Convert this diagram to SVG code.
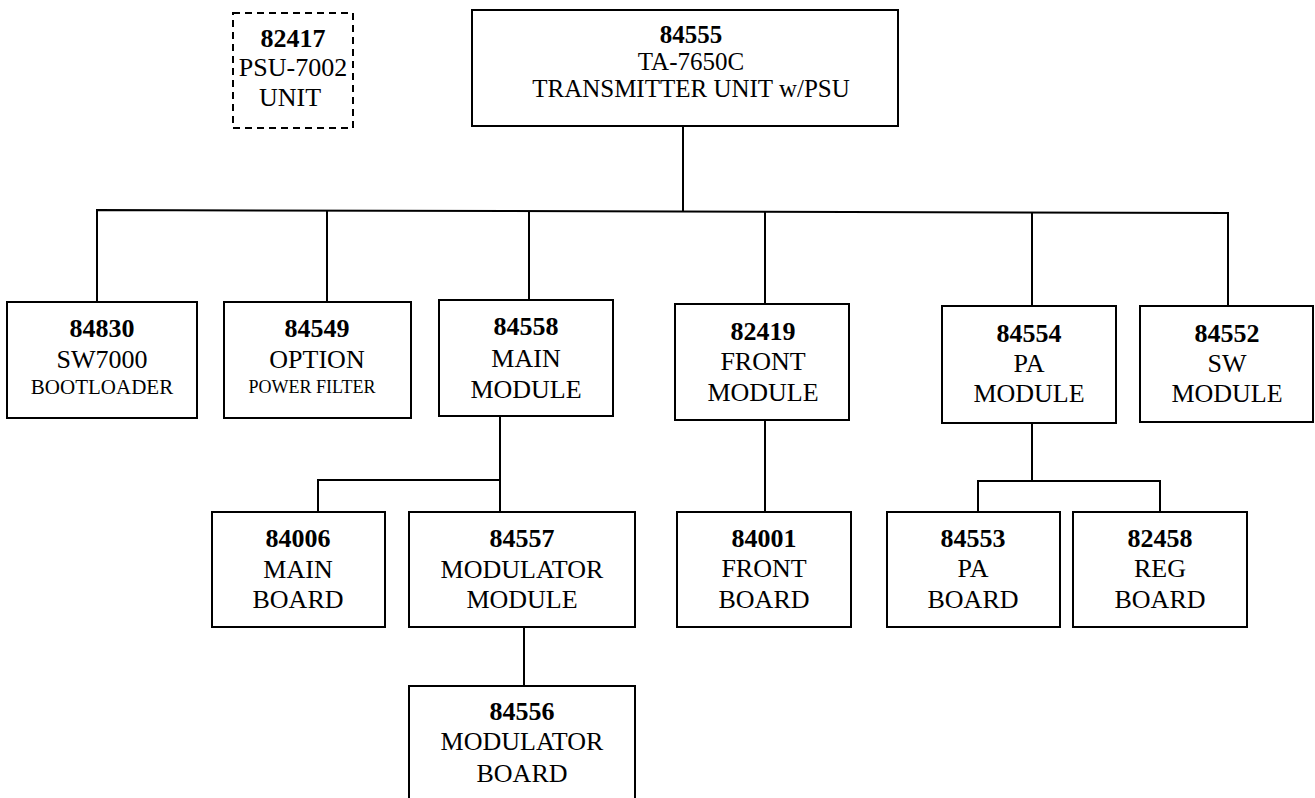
<svg xmlns="http://www.w3.org/2000/svg" width="1315" height="798" viewBox="0 0 1315 798">
<style>
rect.box{fill:#fff;stroke:#000;stroke-width:2}
rect.dash{fill:#fff;stroke:#000;stroke-width:2;stroke-dasharray:7 5}
.c{fill:none;stroke:#000;stroke-width:2}
text{font-family:"Liberation Serif","Times New Roman",serif;font-size:26px;fill:#000;text-anchor:middle}
.b{font-weight:bold}
.t{font-size:25px}
.s{font-size:21px}
.xs{font-size:18px}
</style>
<rect width="1315" height="798" fill="#fff"/>
<g id="connectors">
<path class="c" d="M97,302 V210 L1228,213 V306"/>
<path class="c" d="M683,126 V212"/>
<path class="c" d="M327,211 V302"/>
<path class="c" d="M529,212 V300"/>
<path class="c" d="M765,212 V304"/>
<path class="c" d="M1032,213 V306"/>
<path class="c" d="M500,416 V512 M318,512 V480 H500"/>
<path class="c" d="M524,627 V686"/>
<path class="c" d="M765,420 V512"/>
<path class="c" d="M1032,423 V481 M978,512 V481 H1160 V512"/>
</g>
<g id="n82417">
<rect class="dash" x="233" y="13" width="120" height="115"/>
<text x="293" y="47" class="b">82417</text>
<text x="293" y="76">PSU-7002</text>
<text x="290" y="106">UNIT</text>
</g>
<g id="n84555">
<rect class="box" x="472" y="10" width="426" height="116"/>
<text x="691" y="43" class="b t">84555</text>
<text x="691" y="70" class="t">TA-7650C</text>
<text x="691" y="97" class="t">TRANSMITTER UNIT w/PSU</text>
</g>
<g id="n84830">
<rect class="box" x="7" y="302" width="190" height="116"/>
<text x="102" y="337" class="b">84830</text>
<text x="102" y="368">SW7000</text>
<text x="102" y="394" class="s">BOOTLOADER</text>
</g>
<g id="n84549">
<rect class="box" x="224" y="302" width="187" height="116"/>
<text x="317" y="337" class="b">84549</text>
<text x="317" y="368">OPTION</text>
<text x="312" y="393" class="xs">POWER FILTER</text>
</g>
<g id="n84558">
<rect class="box" x="439" y="300" width="174" height="116"/>
<text x="526" y="335" class="b">84558</text>
<text x="526" y="367">MAIN</text>
<text x="526" y="398">MODULE</text>
</g>
<g id="n82419">
<rect class="box" x="675" y="304" width="174" height="116"/>
<text x="763" y="340" class="b">82419</text>
<text x="763" y="370">FRONT</text>
<text x="763" y="401">MODULE</text>
</g>
<g id="n84554">
<rect class="box" x="942" y="306" width="174" height="117"/>
<text x="1029" y="342" class="b">84554</text>
<text x="1029" y="372">PA</text>
<text x="1029" y="402">MODULE</text>
</g>
<g id="n84552">
<rect class="box" x="1140" y="306" width="173" height="116"/>
<text x="1227" y="342" class="b">84552</text>
<text x="1227" y="372">SW</text>
<text x="1227" y="402">MODULE</text>
</g>
<g id="n84006">
<rect class="box" x="212" y="512" width="173" height="115"/>
<text x="298" y="547" class="b">84006</text>
<text x="298" y="578">MAIN</text>
<text x="298" y="608">BOARD</text>
</g>
<g id="n84557">
<rect class="box" x="409" y="512" width="226" height="115"/>
<text x="522" y="547" class="b">84557</text>
<text x="522" y="578">MODULATOR</text>
<text x="522" y="608">MODULE</text>
</g>
<g id="n84001">
<rect class="box" x="677" y="512" width="174" height="115"/>
<text x="764" y="547" class="b">84001</text>
<text x="764" y="577">FRONT</text>
<text x="764" y="608">BOARD</text>
</g>
<g id="n84553">
<rect class="box" x="887" y="512" width="173" height="115"/>
<text x="973" y="547" class="b">84553</text>
<text x="973" y="577">PA</text>
<text x="973" y="608">BOARD</text>
</g>
<g id="n82458">
<rect class="box" x="1073" y="512" width="174" height="115"/>
<text x="1160" y="547" class="b">82458</text>
<text x="1160" y="577">REG</text>
<text x="1160" y="608">BOARD</text>
</g>
<g id="n84556">
<rect class="box" x="409" y="686" width="226" height="120"/>
<text x="522" y="720" class="b">84556</text>
<text x="522" y="750">MODULATOR</text>
<text x="522" y="782">BOARD</text>
</g>
</svg>
